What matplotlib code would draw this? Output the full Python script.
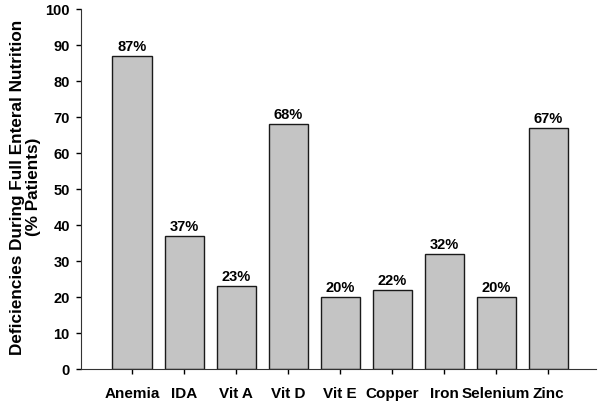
import matplotlib
matplotlib.use("Agg")
from matplotlib import pyplot as plt

categories = ["Anemia", "IDA", "Vit A", "Vit D", "Vit E", "Copper", "Iron", "Selenium", "Zinc"]
values = [87, 37, 23, 68, 20, 22, 32, 20, 67]
labels = ["87%", "37%", "23%", "68%", "20%", "22%", "32%", "20%", "67%"]

plt.rcParams["font.family"] = ["Liberation Sans", "DejaVu Sans"]
plt.rcParams["font.weight"] = "bold"

fig = plt.figure(figsize=(6.01, 4.04), dpi=100)
ax = fig.add_axes([0.1348, 0.0866, 0.857, 0.891])

x = list(range(len(categories)))
ax.bar(x, values, width=0.75, color="#c4c4c4", edgecolor="#1a1a1a", linewidth=1.0)

for xi, v, lab in zip(x, values, labels):
    ax.text(xi, v + 0.6, lab, ha="center", va="bottom", fontsize=10.5, fontweight="bold")

ax.set_xlim(-0.98, 8.92)
ax.set_ylim(0, 100)
ax.set_yticks(range(0, 101, 10))
ax.set_xticks(x)
ax.set_xticklabels(categories, fontsize=11, fontweight="bold")
ax.tick_params(axis="y", labelsize=10.5, direction="out", length=3.6, width=1, pad=4.5)
ax.tick_params(axis="x", direction="out", length=3.6, width=1, pad=9)
for lbl in ax.get_yticklabels():
    lbl.set_fontweight("bold")

ax.spines["top"].set_visible(False)
ax.spines["right"].set_visible(False)
ax.spines["left"].set_color("#333333")
ax.spines["bottom"].set_color("#333333")

ax.set_ylabel("Deficiencies During Full Enteral Nutrition\n(% Patients)",
              fontsize=12.3, fontweight="bold", linespacing=1.05)
ax.yaxis.set_label_coords(-0.078, 0.505)

fig.savefig("out.png", dpi=100)
